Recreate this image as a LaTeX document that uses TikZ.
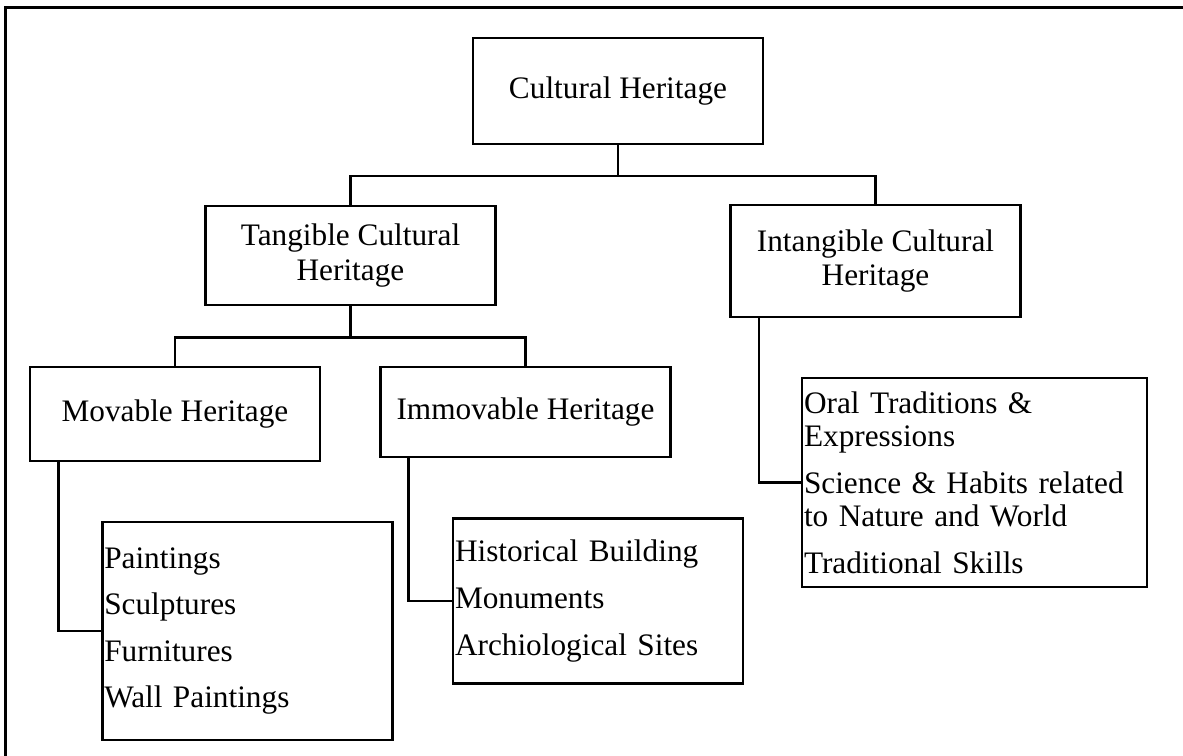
\documentclass[tikz,border=0pt]{standalone}
\usepackage{fontspec}
\setmainfont{Liberation Serif}
\usetikzlibrary{calc}

\begin{document}
\begin{tikzpicture}[
	box/.style={draw, line width=1.4pt, minimum width=5.8cm, align=center, inner sep=2pt},
	listbox/.style={draw, line width=1.4pt, align=left, inner xsep=1pt, inner ysep=0pt},
	link/.style={line width=1.4pt},
	font=\fontsize{17.8}{19}\selectfont]

	\useasboundingbox (0, 0) rectangle (23.66, 15.12);

	\draw [link] (0.11, -0.1) -- (0.11, 14.97) -- (23.8, 14.97);

	\node [box, minimum height=2.13cm] (root) at (12.36, 13.30) {Cultural Heritage};
	\node [box, minimum height=1.99cm] (tangible) at (7.01, 10.01) {Tangible Cultural\\[1pt]Heritage};
	\node [box, minimum height=2.23cm] (intangible) at (17.51, 9.90) {Intangible Cultural\\Heritage};
	\node [box, minimum height=1.89cm] (movable) at (3.50, 6.84) {Movable Heritage};
	\node [box, minimum height=1.81cm] (immovable) at (10.51, 6.88) {Immovable Heritage};

	\node [listbox, text width=5.73cm, minimum height=4.35cm] (paintlist) at (4.95, 2.50)
		{Paintings\\[7.5pt]Sculptures\\[7.5pt]Furnitures\\[7.5pt]Wall Paintings};
	\node [listbox, text width=5.72cm, minimum height=3.30cm] (sitelist) at (11.96, 3.10)
		{Historical Building\\[7.5pt]Monuments\\[7.5pt]Archiological Sites};
	\node [listbox, text width=6.82cm, minimum height=4.17cm] (skilllist) at (19.49, 5.47)
		{Oral Traditions \&\\Expressions\\[7.5pt]Science \& Habits related\\to Nature and World\\[7.5pt]Traditional Skills};

	\coordinate (rootbar) at ($(root.south)+(0, -0.61)$);
	\draw [link] (root.south) -- (rootbar);
	\draw [link] (tangible.north) |- (rootbar) -| (intangible.north);

	\coordinate (tangiblebar) at ($(tangible.south)+(0, -0.62)$);
	\draw [link] (tangible.south) -- (tangiblebar);
	\draw [link] (movable.north) |- (tangiblebar) -| (immovable.north);

	\draw [link] ($(movable.south west)+(0.59, 0)$) |- (paintlist.west);
	\draw [link] ($(immovable.south west)+(0.58, 0)$) |- (sitelist.west);
	\draw [link] ($(intangible.south west)+(0.59, 0)$) |- (skilllist.west);

\end{tikzpicture}
\end{document}
